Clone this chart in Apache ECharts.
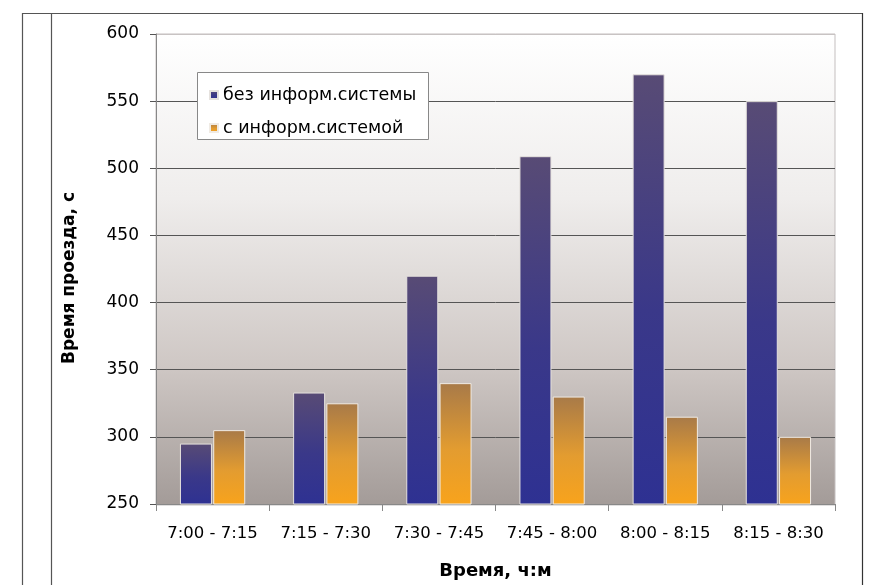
<!DOCTYPE html>
<html><head><meta charset="utf-8">
<script src="https://cdn.jsdelivr.net/npm/echarts@6/dist/echarts.min.js"></script>
<style>html,body{margin:0;padding:0;background:#fff;}#c{width:878px;height:585px;}</style>
</head><body><div id="c"></div>
<script>
var categories = ['7:00 - 7:15','7:15 - 7:30','7:30 - 7:45','7:45 - 8:00','8:00 - 8:15','8:15 - 8:30'];
var withoutSystem = [295, 333, 420, 509, 570, 550];
var withSystem = [305, 325, 340, 330, 315, 300];
var seriesNames = ['без информ.системы','с информ.системой'];
var yTitle = 'Время проезда, с';
var xTitle = 'Время, ч:м';
var yMin = 250, yMax = 600, yStep = 50;

var chart = echarts.init(document.getElementById('c'));
var font = '"DejaVu Sans", Arial, sans-serif';
function grad(top, mid, bottom){
  return new echarts.graphic.LinearGradient(0,0,0,1,[{offset:0,color:top},{offset:0.55,color:mid},{offset:1,color:bottom}]);
}
chart.setOption({
  animation:false,
  graphic:[
    {type:'line',shape:{x1:22,y1:13.5,x2:862,y2:13.5},style:{stroke:'#555',lineWidth:1.2}},
    {type:'line',shape:{x1:22.5,y1:13,x2:22.5,y2:585},style:{stroke:'#555',lineWidth:1.2}},
    {type:'line',shape:{x1:51.5,y1:13,x2:51.5,y2:585},style:{stroke:'#555',lineWidth:1.2}},
    {type:'line',shape:{x1:862.5,y1:13,x2:862.5,y2:585},style:{stroke:'#333',lineWidth:1.2}},
    {type:'rect',z:-1,shape:{x:156,y:34,width:679,height:471},
      style:{fill:new echarts.graphic.LinearGradient(0,0,0,1,[{offset:0,color:'#ffffff'},{offset:0.35,color:'#efedec'},{offset:0.7,color:'#cfc8c5'},{offset:1,color:'#a39b98'}]),stroke:'#c4bfbf',lineWidth:1}},
    {type:'line',z:100,shape:{x1:157,y1:34.5,x2:835,y2:34.5},style:{stroke:'#c8c3c3',lineWidth:1.2}},
    {type:'rect',z:10,shape:{x:197.5,y:72.5,width:231,height:67},style:{fill:'#ffffff',stroke:'#888',lineWidth:1}},
    {type:'text',x:70,y:278,rotation:Math.PI/2,style:{text:yTitle,font:'bold 17px "DejaVu Sans", Arial, sans-serif',fill:'#000',textAlign:'center',textVerticalAlign:'middle'}}
  ],
  legend:{
    left:204, top:81, orient:'vertical', itemGap:15, itemWidth:8, itemHeight:8, icon:'rect', z:20,
    data:seriesNames,
    textStyle:{fontFamily:font,fontSize:17.5,color:'#000'}
  },
  grid:{left:156,right:43,top:34,bottom:80},
  xAxis:{
    type:'category', data:categories,
    name:xTitle, nameLocation:'middle', nameGap:58,
    nameTextStyle:{fontFamily:font,fontSize:18,fontWeight:'bold',color:'#000'},
    axisLine:{lineStyle:{color:'#888'}},
    axisTick:{show:true,interval:0,length:7,lineStyle:{color:'#888'}},
    axisLabel:{interval:0,fontFamily:font,fontSize:16.5,color:'#000',margin:21}
  },
  yAxis:{
    type:'value', min:yMin, max:yMax, interval:yStep,
    axisLine:{show:true,lineStyle:{color:'#888'}},
    axisTick:{show:true,length:6,lineStyle:{color:'#555'}},
    axisLabel:{fontFamily:font,fontSize:17,color:'#000',margin:17},
    splitLine:{lineStyle:{color:'#555',width:1}}
  },
  series:[
    {name:seriesNames[0],type:'bar',data:withoutSystem,barWidth:32,barGap:'4%',
      itemStyle:{color:grad('#584b75','#3a3889','#2e3192'),borderColor:'#e6e2de',borderWidth:1}},
    {name:seriesNames[1],type:'bar',data:withSystem,barWidth:32,
      itemStyle:{color:grad('#a87a48','#e39c30','#f8a31c'),borderColor:'#f0ebe4',borderWidth:1}}
  ]
});
</script></body></html>
